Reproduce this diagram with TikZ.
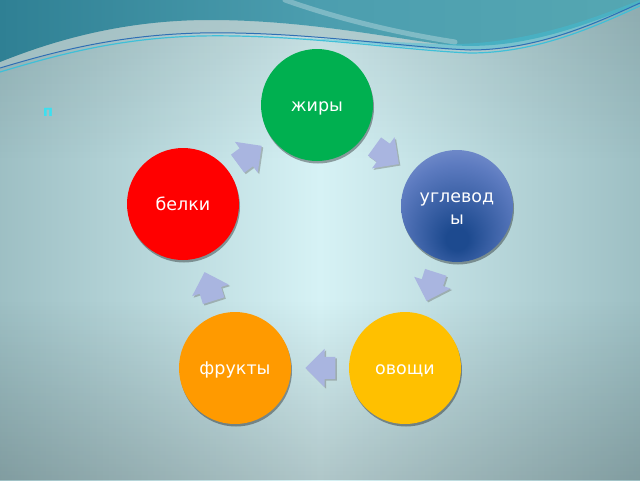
\documentclass[tikz,border=0pt]{standalone}
\usepackage{fontspec}
\newfontfamily\lab{DejaVu Sans}
\usetikzlibrary{shapes.arrows,shadows,calc,fadings}
\definecolor{bgedge}{HTML}{5C878D}
\definecolor{bgmid}{HTML}{89ADB2}
\definecolor{bgcenter}{HTML}{D6F2F5}
\definecolor{tealA}{HTML}{2F8094}
\definecolor{tealB}{HTML}{4C9EAF}
\definecolor{tealC}{HTML}{55A7B2}
\definecolor{bandgray}{HTML}{A9C5C8}
\definecolor{waveblue}{HTML}{2F6FB5}
\definecolor{wavecyan}{HTML}{3FC0D8}
\definecolor{cgreen}{HTML}{00B050}
\definecolor{cred}{HTML}{FF0000}
\definecolor{corange}{HTML}{FF9A00}
\definecolor{cyellow}{HTML}{FFC000}
\definecolor{ugdark}{HTML}{1D4A8F}
\definecolor{ugmid}{HTML}{5D7BC0}
\definecolor{uglight}{HTML}{A6B5E4}
\definecolor{arrfill}{HTML}{A9B5E0}
\definecolor{labcyan}{HTML}{3CE0F0}
\pgfdeclarehorizontalshading{bgh}{100bp}{color(0bp)=(bgedge); color(16bp)=(bgmid); color(50bp)=(bgcenter); color(84bp)=(bgmid); color(100bp)=(bgedge)}
\pgfdeclareradialshading{ugl}{\pgfpoint{0bp}{-16bp}}{color(0bp)=(ugdark); color(5bp)=(ugdark); color(28bp)=(ugmid); color(50bp)=(uglight); color(65bp)=(uglight)}
\tikzset{
  foodfont/.style={text=white, font=\lab\fontsize{17.5}{22}\selectfont},
  food/.style={circle, minimum size=112pt, inner sep=0pt, foodfont,
    text height=12pt, text depth=0pt,
    drop shadow={shadow xshift=1pt, shadow yshift=-2.5pt, fill=black, opacity=0.35}},
  blockarrow/.style={single arrow, fill=arrfill, draw=none, inner xsep=0pt, inner ysep=11pt,
    minimum height=30pt, single arrow head extend=8pt,
    drop shadow={shadow xshift=1.5pt, shadow yshift=-1.5pt, fill=black!60, opacity=0.4}},
}
\begin{document}
\begin{tikzpicture}[x=1pt,y=-1pt]
\useasboundingbox (0,0) rectangle (640,480);
% background
\shade[shading=bgh] (0,0) rectangle (640,480);
\fill[black, opacity=0.18, path fading=north] (0,300) rectangle (640,480);
\fill[black, opacity=0.10, path fading=south] (0,0) rectangle (640,160);
% top wave: light band between teal edge and blue line
\fill[bandgray, opacity=0.7] (0,62) .. controls (50,42) and (120,20) .. (210,20) .. controls (300,20) and (380,36) .. (440,44) .. controls (520,54) and (590,22) .. (640,4)
  -- (640,3) .. controls (600,21) and (540,50) .. (470,50) .. controls (400,47) and (300,31) .. (200,33) .. controls (120,35) and (60,50) .. (0,68) -- cycle;
\shade[left color=tealA, right color=tealC, middle color=tealB]
  (0,0) -- (0,62) .. controls (50,42) and (120,20) .. (210,20) .. controls (300,20) and (380,36) .. (440,44) .. controls (520,54) and (590,22) .. (640,4) -- (640,0) -- cycle;
\fill[wavecyan, opacity=0.45] (300,38) .. controls (380,44) and (420,50) .. (470,50) .. controls (540,50) and (600,22) .. (640,5) -- (640,0) .. controls (590,20) and (520,46) .. (440,44) -- cycle;
\draw[white, opacity=0.28, line width=5pt, line cap=round] (285,0) .. controls (330,16) and (390,32) .. (455,42);
\draw[wavecyan, line width=1.2pt] (0,72) .. controls (60,54) and (120,38) .. (200,36) .. controls (300,34) and (400,50) .. (470,53) .. controls (540,53) and (600,24) .. (640,6);
\draw[waveblue, line width=1pt] (0,68) .. controls (60,50) and (120,35) .. (200,33) .. controls (300,31) and (400,47) .. (470,50) .. controls (540,50) and (600,21) .. (640,3);
% small label
\node[text=labcyan, font=\lab\bfseries\fontsize{15}{17}\selectfont] (p) at (48,112) {п};
% circles
\node[food, fill=cgreen] (zh) at (317,105) {жиры};
\node[food, shading=ugl, label={[foodfont, align=center, yshift=-3pt]center:{углевод\\ы}}] (ug) at (457,206) {};
\node[food, fill=cyellow] (ov) at (405,368) {овощи};
\node[food, fill=corange] (fr) at (235,368) {фрукты};
\node[food, fill=cred] (be) at (183,204) {белки};
% arrows
\path let \p1=($(ug)-(zh)$), \n1={atan2(\y1,\x1)} in
  node[blockarrow, rotate=\n1, xshift=-6pt] (a1) at ($(zh)!0.5!(ug)$) {};
\path let \p1=($(ov)-(ug)$), \n1={atan2(\y1,\x1)} in
  node[blockarrow, rotate=\n1, xshift=-6pt] (a2) at ($(ug)!0.5!(ov)$) {};
\path let \p1=($(fr)-(ov)$), \n1={atan2(\y1,\x1)} in
  node[blockarrow, rotate=\n1, xshift=-6pt] (a3) at ($(ov)!0.5!(fr)$) {};
\path let \p1=($(be)-(fr)$), \n1={atan2(\y1,\x1)} in
  node[blockarrow, rotate=\n1, xshift=-6pt] (a4) at ($(fr)!0.5!(be)$) {};
\path let \p1=($(zh)-(be)$), \n1={atan2(\y1,\x1)} in
  node[blockarrow, rotate=\n1, xshift=-6pt] (a5) at ($(be)!0.5!(zh)$) {};
\end{tikzpicture}
\end{document}
